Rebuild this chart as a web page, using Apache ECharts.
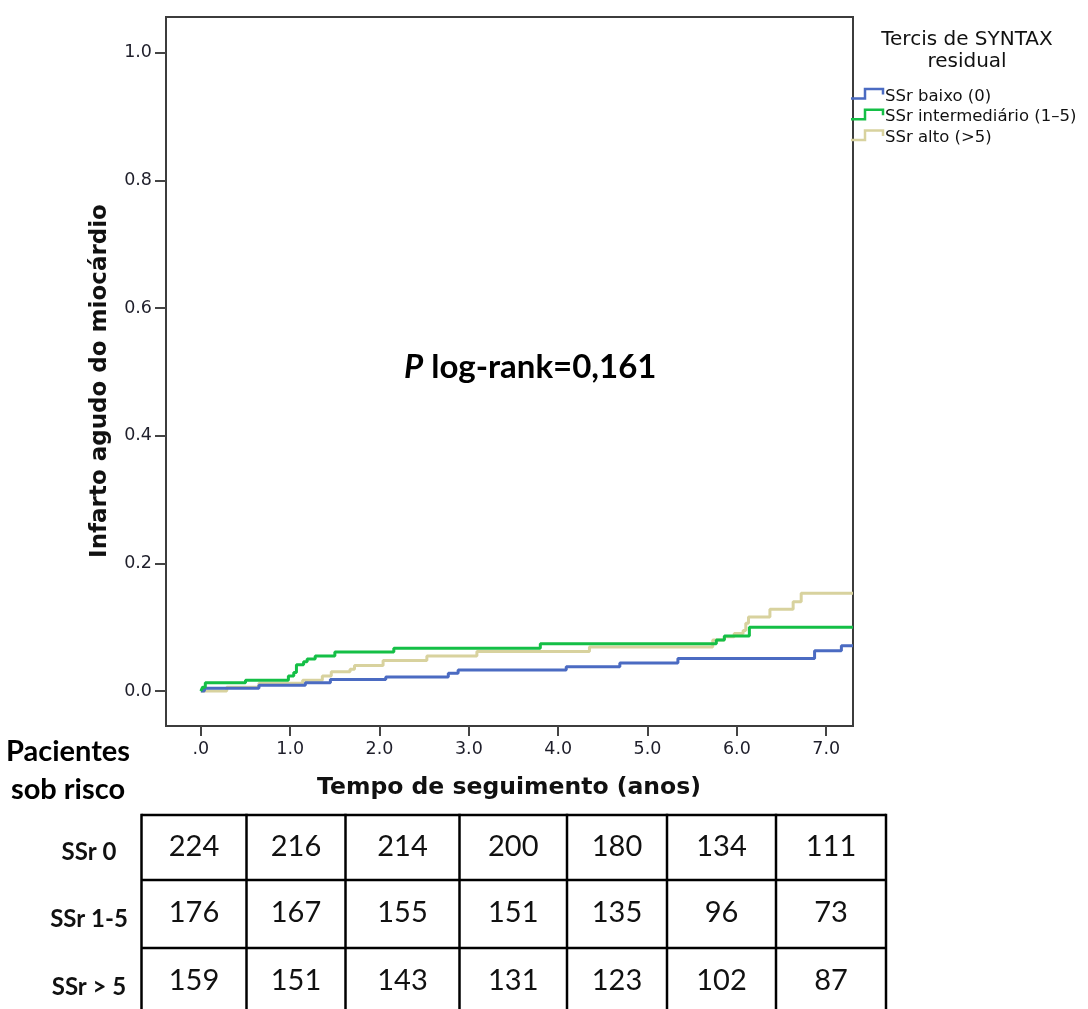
<!DOCTYPE html>
<html>
<head>
<meta charset="utf-8">
<script src="https://cdn.jsdelivr.net/npm/echarts@6/dist/echarts.min.js"></script>
<style>
  html, body { margin: 0; padding: 0; background: #ffffff; }
  #chart { width: 1088px; height: 1009px; }
</style>
</head>
<body>
<div id="chart"></div>
<script>
// Cumulative incidence of myocardial infarction by residual SYNTAX tertile
// (Kaplan–Meier style step curves, event times in years).
const seriesNames = ['SSr baixo (0)', 'SSr intermediário (1–5)', 'SSr alto (>5)'];
const seriesColors = ['#4b6bc2', '#14bf46', '#d8d29e'];

const lowTimes  = [0, 0.04, 0.65, 1.17, 1.45, 2.07, 2.77, 2.88, 4.09, 4.69, 5.34, 6.87, 7.17, 7.30];
const lowValues = [0, 0.0045, 0.009, 0.013, 0.018, 0.022, 0.028, 0.033, 0.038, 0.044, 0.051, 0.063, 0.071, 0.071];

const midTimes  = [0, 0.02, 0.05, 0.50, 0.98, 1.04, 1.07, 1.15, 1.19, 1.28, 1.50, 2.16, 3.80, 5.77, 5.86, 6.14, 7.30];
const midValues = [0, 0.006, 0.013, 0.017, 0.0235, 0.029, 0.041, 0.046, 0.050, 0.055, 0.061, 0.067, 0.074, 0.080, 0.086, 0.100, 0.100];

const highTimes  = [0, 0.29, 0.65, 1.14, 1.36, 1.46, 1.67, 1.72, 2.04, 2.53, 3.09, 4.35, 5.73, 5.86, 5.97, 6.07, 6.10, 6.13, 6.37, 6.63, 6.72, 7.30];
const highValues = [0, 0.006, 0.012, 0.017, 0.0235, 0.030, 0.034, 0.040, 0.048, 0.055, 0.062, 0.069, 0.080, 0.085, 0.090, 0.095, 0.106, 0.116, 0.128, 0.140, 0.153, 0.153];

// Axis ticks
const xTickValues = [0, 1, 2, 3, 4, 5, 6, 7];
const xTickLabels = ['.0', '1.0', '2.0', '3.0', '4.0', '5.0', '6.0', '7.0'];
const yTickValues = [0, 0.2, 0.4, 0.6, 0.8, 1.0];
const yTickLabels = ['0.0', '0.2', '0.4', '0.6', '0.8', '1.0'];

// Patients at risk table
const riskRowLabels = ['SSr 0', 'SSr 1-5', 'SSr > 5'];
const riskLow  = [224, 216, 214, 200, 180, 134, 111];
const riskMid  = [176, 167, 155, 151, 135, 96, 73];
const riskHigh = [159, 151, 143, 131, 123, 102, 87];

const pLogRank = '0,161';

function pairs(times, values) {
  return times.map((t, i) => [t, values[i]]);
}

const chart = echarts.init(document.getElementById('chart'), null, { renderer: 'canvas' });

const tickFont = { fontFamily: 'DejaVu Sans', fontSize: 17.5, color: '#1e1e2a' };
const calloutFont = 'Lato';
const centered = { align: 'center', verticalAlign: 'middle', textAlign: 'center', textVerticalAlign: 'middle' };

// Legend drawn as step glyphs with labels
const legendEls = [
  { type: 'text', x: 967, y: 40, style: Object.assign({ text: 'Tercis de SYNTAX', fontFamily: 'DejaVu Sans', fontSize: 20, fill: '#111' }, centered) },
  { type: 'text', x: 967, y: 61.5, style: Object.assign({ text: 'residual', fontFamily: 'DejaVu Sans', fontSize: 20, fill: '#111' }, centered) }
];
seriesNames.forEach((name, i) => {
  const y0 = 98.5 + i * 20.7;
  legendEls.push({
    type: 'polyline',
    shape: { points: [[851, y0], [865, y0], [865, y0 - 9.5], [883, y0 - 9.5], [883, y0 - 4]] },
    style: { stroke: seriesColors[i], lineWidth: 2.5, fill: null }
  });
  legendEls.push({
    type: 'text', x: 885, y: y0 - 2,
    style: { text: name, fontFamily: 'DejaVu Sans', fontSize: 16.5, fill: '#111', align: 'left', verticalAlign: 'middle', textAlign: 'left', textVerticalAlign: 'middle' }
  });
});

// At-risk table geometry
const colEdges = [141.5, 246.5, 345.5, 459.5, 567, 667, 776, 886];
const rowEdges = [815, 880, 948, 1016];
const tableEls = [];
colEdges.forEach(x => tableEls.push({ type: 'line', shape: { x1: x, y1: rowEdges[0] - 1.25, x2: x, y2: rowEdges[3] }, style: { stroke: '#000', lineWidth: 2.5 } }));
rowEdges.slice(0, 3).forEach(y => tableEls.push({ type: 'line', shape: { x1: colEdges[0], y1: y, x2: colEdges[colEdges.length - 1], y2: y }, style: { stroke: '#000', lineWidth: 2.5 } }));
[riskLow, riskMid, riskHigh].forEach((row, r) => {
  const cy = (rowEdges[r] + rowEdges[r + 1]) / 2;
  row.forEach((v, c) => {
    tableEls.push({
      type: 'text', x: (colEdges[c] + colEdges[c + 1]) / 2, y: cy - 1,
      style: Object.assign({ text: String(v), fontFamily: calloutFont, fontSize: 29, fill: '#111' }, centered)
    });
  });
  tableEls.push({
    type: 'text', x: 89, y: cy + 5,
    style: Object.assign({ text: riskRowLabels[r], fontFamily: calloutFont, fontWeight: 'bold', fontSize: 24, fill: '#111' }, centered)
  });
});

const option = {
  backgroundColor: '#ffffff',
  animation: false,
  grid: {
    left: 166, top: 17, right: 235, bottom: 283,
    show: true, borderColor: '#3c3c3c', borderWidth: 2, backgroundColor: '#ffffff'
  },
  xAxis: {
    type: 'value', min: -0.39, max: 7.30,
    axisLine: { show: false, onZero: false },
    splitLine: { show: false },
    axisTick: { show: true, inside: false, length: 10, customValues: xTickValues, lineStyle: { color: '#444', width: 2 } },
    axisLabel: Object.assign({ customValues: xTickValues, margin: 14, formatter: v => xTickLabels[Math.round(v)] }, tickFont)
  },
  yAxis: {
    type: 'value', min: -0.0548, max: 1.0559,
    axisLine: { show: false, onZero: false },
    splitLine: { show: false },
    axisTick: { show: true, inside: false, length: 11, customValues: yTickValues, lineStyle: { color: '#444', width: 2 } },
    axisLabel: Object.assign({ customValues: yTickValues, margin: 14, formatter: v => yTickLabels[Math.round(v * 5)] }, tickFont)
  },
  series: [
    { name: seriesNames[2], type: 'line', step: 'end', showSymbol: false, data: pairs(highTimes, highValues), lineStyle: { color: seriesColors[2], width: 3 }, itemStyle: { color: seriesColors[2] }, z: 2 },
    { name: seriesNames[0], type: 'line', step: 'end', showSymbol: false, data: pairs(lowTimes, lowValues), lineStyle: { color: seriesColors[0], width: 3 }, itemStyle: { color: seriesColors[0] }, z: 3 },
    { name: seriesNames[1], type: 'line', step: 'end', showSymbol: false, data: pairs(midTimes, midValues), lineStyle: { color: seriesColors[1], width: 3 }, itemStyle: { color: seriesColors[1] }, z: 4 }
  ],
  graphic: [
    // axis titles
    { type: 'text', x: 100, y: 381, rotation: Math.PI / 2,
      style: Object.assign({ text: 'Infarto agudo do miocárdio', fontFamily: 'DejaVu Sans', fontWeight: 'bold', fontSize: 23, fill: '#111' }, centered) },
    { type: 'text', x: 509, y: 788,
      style: Object.assign({ text: 'Tempo de seguimento (anos)', fontFamily: 'DejaVu Sans', fontWeight: 'bold', fontSize: 23.5, fill: '#111' }, centered) },
    // log-rank annotation
    { type: 'text', x: 404, y: 367,
      style: {
        text: '{i|P}{b| log-rank=' + pLogRank + '}',
        rich: {
          i: { fontFamily: calloutFont, fontWeight: 'bold', fontStyle: 'italic', fontSize: 33, fill: '#000' },
          b: { fontFamily: calloutFont, fontWeight: 'bold', fontSize: 33, fill: '#000' }
        },
        align: 'left', verticalAlign: 'middle', textAlign: 'left', textVerticalAlign: 'middle'
      } },
    // at-risk heading
    { type: 'text', x: 68, y: 752,
      style: Object.assign({ text: 'Pacientes', fontFamily: calloutFont, fontWeight: 'bold', fontSize: 29, fill: '#000' }, centered) },
    { type: 'text', x: 68, y: 790,
      style: Object.assign({ text: 'sob risco', fontFamily: calloutFont, fontWeight: 'bold', fontSize: 29, fill: '#000' }, centered) }
  ].concat(legendEls, tableEls)
};

chart.setOption(option);
</script>
</body>
</html>
